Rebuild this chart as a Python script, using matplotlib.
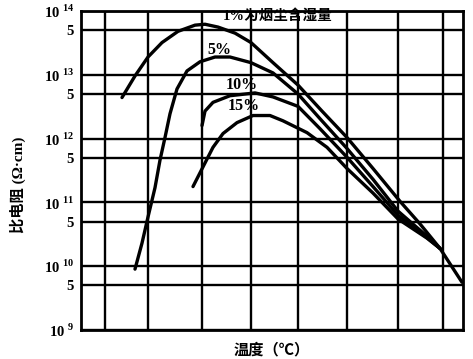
import matplotlib
matplotlib.use("Agg")
import matplotlib.pyplot as plt

plt.rcParams['font.family'] = ['Liberation Serif', 'Noto Sans CJK SC', 'DejaVu Sans']
plt.rcParams['mathtext.fontset'] = 'custom'
plt.rcParams['mathtext.rm'] = 'Liberation Serif:bold'
plt.rcParams['mathtext.bf'] = 'Liberation Serif:bold'

# temperature axis has no printed values, x is in grid units read off the scan
x_1 = [41, 54, 67, 81, 97, 114, 124, 137, 154, 170, 192, 217, 241, 266, 292, 319, 339, 359, 381]
y_1 = [4.4e12, 9.6e12, 1.9e13, 3.2e13, 4.8e13, 6.0e13, 6.2e13, 5.6e13, 4.5e13, 3.2e13,
       1.55e13, 6.9e12, 2.7e12, 1.04e12, 3.4e11, 1.04e11, 4.6e10, 1.9e10, 5.6e9]

x_5 = [54, 61, 67, 74, 79, 84, 89, 96, 106, 119, 134, 149, 170, 192, 217, 239, 266, 292, 317, 346, 359]
y_5 = [9.0e9, 2.3e10, 5.9e10, 1.7e11, 4.6e11, 1.04e12, 2.45e12, 6.0e12, 1.15e13, 1.6e13,
       1.9e13, 1.9e13, 1.55e13, 1.07e13, 5.0e12, 2.05e12, 7.0e11, 2.3e11, 7.3e10, 2.95e10, 1.9e10]

x_10 = [121, 124, 132, 149, 174, 192, 217, 239, 266, 292, 317, 346, 359]
y_10 = [1.6e12, 2.7e12, 3.7e12, 4.7e12, 5.2e12, 4.5e12, 3.2e12, 1.43e12, 5.1e11, 1.77e11,
        6.3e10, 2.8e10, 1.9e10]

x_15 = [112, 122, 132, 142, 156, 172, 189, 202, 226, 246, 266, 292, 317, 346, 359]
y_15 = [1.77e11, 3.6e11, 7.3e11, 1.2e12, 1.78e12, 2.3e12, 2.3e12, 1.9e12, 1.24e12, 7.3e11,
        3.4e11, 1.4e11, 5.5e10, 2.75e10, 1.9e10]

x_grid = [24, 67, 121, 170, 217, 266, 317, 362]
y_ticks = [1e9, 5e9, 1e10, 5e10, 1e11, 5e11, 1e12, 5e12, 1e13, 5e13, 1e14]
y_labels = ['10$^{\\ 9}$', '5', '10$^{\\ 10}$', '5', '10$^{\\ 11}$', '5', '10$^{\\ 12}$', '5',
            '10$^{\\ 13}$', '5', '10$^{\\ 14}$']

fig = plt.figure(figsize=(4.73, 3.59), dpi=100)
ax = fig.add_axes([81 / 473, 29 / 359, 382 / 473, 319 / 359])

for xs, ys in [(x_1, y_1), (x_5, y_5), (x_10, y_10), (x_15, y_15)]:
    ax.plot(xs, ys, color='black', lw=2.4, solid_capstyle='round', solid_joinstyle='round', zorder=3)

ax.set_yscale('log')
ax.set_xlim(0, 382)
ax.set_ylim(1e9, 1e14)
ax.set_yticks(y_ticks)
ax.set_yticklabels(y_labels, fontsize=10.5, fontweight='bold')
ax.yaxis.set_minor_locator(matplotlib.ticker.NullLocator())
ax.set_xticks(x_grid)
ax.set_xticklabels([])
ax.tick_params(length=0, pad=5)
ax.grid(True, color='black', lw=1.7)
for s in ax.spines.values():
    s.set_linewidth(2)

ax.text(142, 7.2e13, '1%为烟尘含湿量', fontsize=10.5, fontweight='bold', va='baseline', zorder=4)
ax.text(126, 2.45e13, '5%', fontsize=11.5, fontweight='bold', va='center')
ax.text(145, 6.8e12, '10%', fontsize=11.5, fontweight='bold', va='center')
ax.text(147, 3.3e12, '15%', fontsize=11.5, fontweight='bold', va='center')

ax.set_xlabel('温度（℃）', fontsize=11, fontweight='bold', labelpad=4)
fig.text(18 / 473, 1 - 185 / 359, '比电阻 (Ω·cm)', rotation=90, fontsize=11,
         fontweight='bold', ha='center', va='center')

fig.savefig('out.png', dpi=100)
